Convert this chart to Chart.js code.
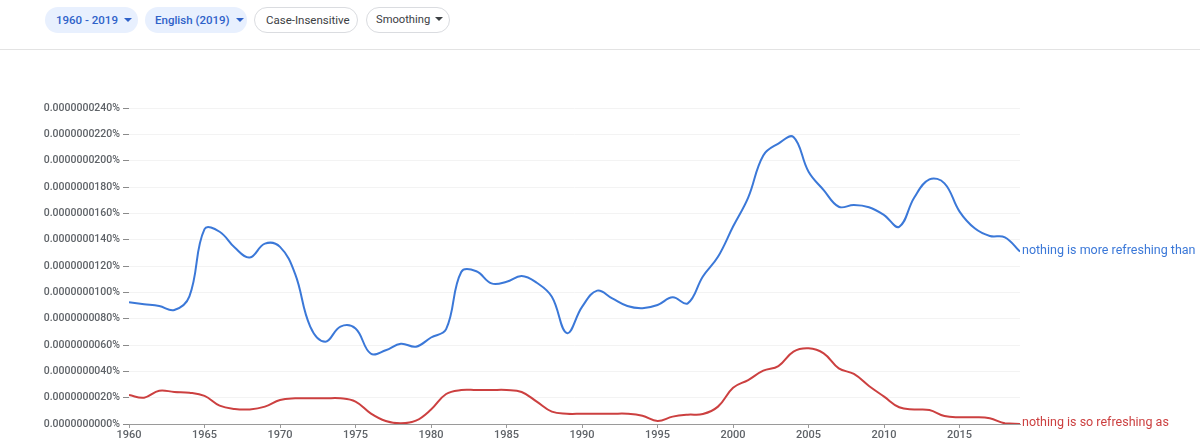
<!DOCTYPE html>
<html>
<head>
<meta charset="utf-8">
<script src="https://cdn.jsdelivr.net/npm/chart.js@4/dist/chart.umd.min.js"></script>
<style>
  html, body { margin: 0; padding: 0; background: #fff; }
  body { width: 1200px; height: 447px; position: relative; overflow: hidden; font-family: Roboto, "Noto Sans", sans-serif; }
  .bar { position: absolute; top: 0; left: 0; width: 1200px; height: 49px; border-bottom: 1px solid #e3e3e3; }
  .chip { position: absolute; top: 7px; height: 26px; line-height: 26px; border-radius: 13px; font-size: 11.5px; box-sizing: border-box; white-space: nowrap; padding-left: 11px; }
  .chip.on { background: #e8f0fe; color: #2f62c9; font-weight: 500; }
  .chip.off { border: 1px solid #dadce0; color: #3c4043; line-height: 24px; }
  .caret { display: inline-block; width: 0; height: 0; border-left: 4px solid transparent; border-right: 4px solid transparent; border-top: 4px solid currentColor; vertical-align: middle; margin-left: 6px; margin-top: -2px; }
  #wrap { position: absolute; top: 50px; left: 0; width: 1200px; height: 397px; }
</style>
</head>
<body>
<div class="bar">
  <div class="chip on" style="left:45px;width:93px;">1960 - 2019<span class="caret"></span></div>
  <div class="chip on" style="left:145px;width:102px;padding-left:10px;">English (2019)<span class="caret"></span></div>
  <div class="chip off" style="left:254px;width:104px;">Case-Insensitive</div>
  <div class="chip off" style="left:366px;width:84px;padding-left:9px;font-size:11.2px;">Smoothing<span class="caret" style="margin-left:5px;"></span></div>
</div>
<div id="wrap"><canvas id="ngram"></canvas></div>
<script>
// years on the x axis
const years = []
for (let y = 1960; y <= 2019; y++) years.push(y)

// values, in units of 0.0000000001 %
const moreRefreshing = [
  92.4, 91, 89.6, 86.6, 97, 148, 146, 134, 126.5, 137,
  134.5, 114, 74, 62.5, 74, 72.5, 53.5, 56, 61, 58.7,
  65.7, 72, 115.5, 116, 106.8, 108, 112.4, 107.3, 96.7, 69,
  89, 101.3, 95.4, 89.6, 88, 90.4, 96.2, 91.6, 112, 127,
  150, 172, 204, 213, 218, 191.6, 177.7, 165, 166.3, 164.6,
  158.7, 149.8, 172, 185.8, 182.8, 161.3, 148.6, 142.8, 141.8, 130.9
]
const soRefreshing = [
  22, 20, 25.3, 24.3, 23.8, 21.3, 13.9, 11.4, 11.1, 13.2,
  18.2, 19.5, 19.5, 19.5, 19.5, 17, 8.1, 2.3, 0.5, 2.5,
  11, 22.8, 25.8, 25.8, 25.8, 25.8, 24.3, 17, 9.4, 7.8,
  7.8, 7.8, 7.8, 7.8, 6.3, 2.3, 5.6, 7.1, 7.6, 13.2,
  27.5, 33.4, 40.5, 44, 55, 57.5, 53.7, 42.3, 38, 28.9,
  20.8, 12.7, 11.1, 10.6, 6.1, 5.1, 5.1, 4.3, 0.5, 0
]
const seriesNames = ['nothing is more refreshing than', 'nothing is so refreshing as']
const seriesColors = ['#3b78d8', '#cc4040']

function toPoints(arr) {
  return arr.map((v, i) => ({x: years[i], y: v}))
}

// writes each phrase next to the last point of its line
const endLabels = {
  id: 'endLabels',
  afterDatasetsDraw(chart) {
    const ctx = chart.ctx
    ctx.save()
    ctx.font = '12.5px Roboto'
    ctx.textBaseline = 'middle'
    ctx.textAlign = 'left'
    chart.data.datasets.forEach((ds, i) => {
      const pts = chart.getDatasetMeta(i).data
      const last = pts[pts.length - 1]
      ctx.fillStyle = ds.borderColor
      ctx.fillText(ds.label, last.x + 2, last.y - 1)
    })
    ctx.restore()
  }
}

new Chart(document.getElementById('ngram').getContext('2d'), {
  type: 'line',
  data: {
    datasets: [{
      label: seriesNames[0],
      data: toPoints(moreRefreshing),
      borderColor: seriesColors[0],
      borderWidth: 2,
      pointRadius: 0,
      tension: 0.4,
      fill: false
    }, {
      label: seriesNames[1],
      data: toPoints(soRefreshing),
      borderColor: seriesColors[1],
      borderWidth: 2,
      pointRadius: 0,
      tension: 0.4,
      fill: false
    }]
  },
  options: {
    responsive: true,
    maintainAspectRatio: false,
    animation: false,
    layout: { padding: { top: 58, right: 180, left: 0, bottom: 0 } },
    plugins: { legend: { display: false }, tooltip: { enabled: false } },
    scales: {
      x: {
        type: 'linear',
        min: 1960,
        max: 2019,
        grid: { drawOnChartArea: false, tickLength: 4, tickColor: '#9a9a9a' },
        border: { color: '#9a9a9a' },
        ticks: {
          stepSize: 5,
          includeBounds: false,
          padding: 1,
          color: '#5f6368',
          font: { family: 'Roboto', size: 11, weight: '500' },
          maxRotation: 0,
          callback: v => String(v)
        },
        afterFit: s => { s.height = 23 }
      },
      y: {
        min: 0,
        max: 240,
        grid: { color: '#f3f3f3', tickLength: 6, tickColor: '#8a8a8a' },
        border: { display: false },
        ticks: {
          stepSize: 20,
          padding: 3,
          color: '#5f6368',
          font: { family: 'Roboto', size: 10.5, weight: '500' },
          callback: v => (v * 1e-10).toFixed(10) + '%'
        },
        afterFit: s => { s.width = 129 }
      }
    }
  },
  plugins: [endLabels]
})
</script>
</body>
</html>
